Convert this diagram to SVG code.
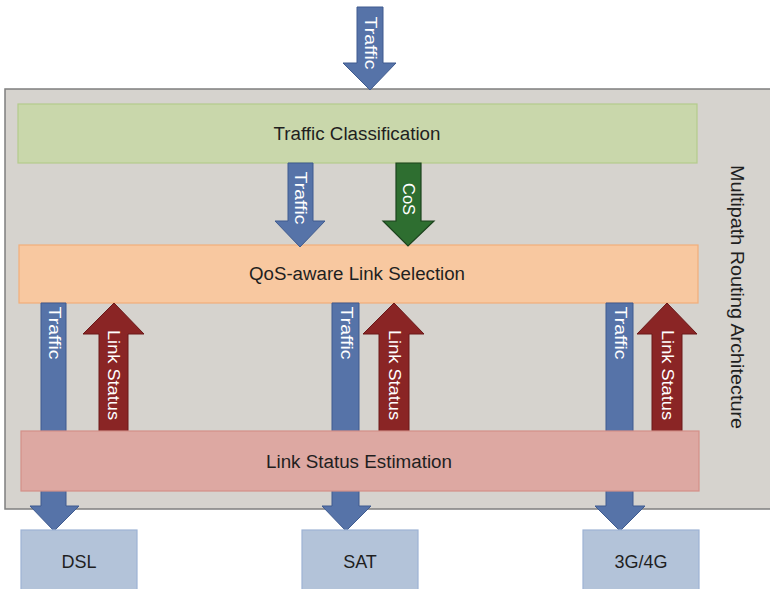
<svg xmlns="http://www.w3.org/2000/svg" width="770" height="589" viewBox="0 0 770 589">
  <defs>
    <style>
      .lbl { font-family: "Liberation Sans", Arial, sans-serif; fill: #1f1f1f; text-anchor: middle; }
      .box-lbl { font-size: 18px; }
      .arr-lbl { font-family: "Liberation Sans", Arial, sans-serif; fill: #ffffff; font-size: 16px; text-anchor: middle; }
      .blue { fill: #5673A8; stroke: #3F5B8F; stroke-width: 1; }
      .green { fill: #2E6E30; stroke: #1C431D; stroke-width: 1.2; }
      .red { fill: #8A2525; stroke: #6A1919; stroke-width: 1; }
      .link { fill: #B3C3D9; stroke: #9DB3D4; stroke-width: 1.2; }
    </style>
  </defs>

  <rect width="770" height="589" fill="#ffffff"/>

  <!-- architecture container -->
  <g id="architecture">
    <rect x="5" y="89" width="770" height="420" fill="#D6D3CE" stroke="#7F7F7F" stroke-width="1.5"/>
    <text class="lbl" font-size="19" transform="translate(731,297) rotate(90)" textLength="264" lengthAdjust="spacingAndGlyphs">Multipath Routing Architecture</text>
  </g>

  <!-- processing stages -->
  <g id="traffic-classification">
    <rect x="18" y="104" width="679" height="59" fill="#C9D7AB" stroke="#B4CB8C" stroke-width="1.2"/>
    <text class="lbl box-lbl" x="357" y="140" textLength="167" lengthAdjust="spacingAndGlyphs">Traffic Classification</text>
  </g>
  <g id="link-selection">
    <rect x="19" y="245" width="679" height="58" fill="#F8C8A0" stroke="#F2AE7A" stroke-width="1.2"/>
    <text class="lbl box-lbl" x="357" y="280" textLength="216" lengthAdjust="spacingAndGlyphs">QoS-aware Link Selection</text>
  </g>

  <!-- connectors -->
  <g id="connectors">
    <!-- incoming traffic -->
    <polygon class="blue" points="357,7 383,7 383,63 396,63 370,90 343,63 357,63"/>
    <text class="arr-lbl" transform="translate(364.5,43) rotate(90)" textLength="53" lengthAdjust="spacingAndGlyphs">Traffic</text>

    <!-- classification to link selection -->
    <polygon class="blue" points="288,163 313,163 313,221 325,221 300,247 275,221 288,221"/>
    <text class="arr-lbl" transform="translate(295,198) rotate(90)" textLength="53" lengthAdjust="spacingAndGlyphs">Traffic</text>
    <polygon class="green" points="396,163 421,163 421,221 434,221 408,246 383,221 396,221"/>
    <text class="arr-lbl" transform="translate(403,199) rotate(90)" textLength="32" lengthAdjust="spacingAndGlyphs">CoS</text>

    <!-- DSL path -->
    <polygon class="blue" points="41,303 66,303 66,506 79,506 54,531 30,506 41,506"/>
    <text class="arr-lbl" transform="translate(48.5,333) rotate(90)" textLength="53" lengthAdjust="spacingAndGlyphs">Traffic</text>
    <polygon class="red" points="99,431 128,431 128,334 144,334 114,303 83,334 99,334"/>
    <text class="arr-lbl" transform="translate(108,375) rotate(90)" textLength="90" lengthAdjust="spacingAndGlyphs">Link Status</text>

    <!-- SAT path -->
    <polygon class="blue" points="332,303 359,303 359,506 371,506 346,531 322,506 332,506"/>
    <text class="arr-lbl" transform="translate(340.5,333) rotate(90)" textLength="53" lengthAdjust="spacingAndGlyphs">Traffic</text>
    <polygon class="red" points="379,431 409,431 409,334 424,334 394,303 363,334 379,334"/>
    <text class="arr-lbl" transform="translate(388.5,375) rotate(90)" textLength="90" lengthAdjust="spacingAndGlyphs">Link Status</text>

    <!-- 3G/4G path -->
    <polygon class="blue" points="606,303 633,303 633,506 645,506 620,531 595,506 606,506"/>
    <text class="arr-lbl" transform="translate(614.5,333) rotate(90)" textLength="53" lengthAdjust="spacingAndGlyphs">Traffic</text>
    <polygon class="red" points="652,431 682,431 682,334 697,334 667,303 637,334 652,334"/>
    <text class="arr-lbl" transform="translate(661.5,375) rotate(90)" textLength="90" lengthAdjust="spacingAndGlyphs">Link Status</text>
  </g>

  <g id="status-estimation">
    <rect x="21" y="431" width="678" height="60" fill="#DDA8A2" stroke="#D48F88" stroke-width="1.2"/>
    <text class="lbl box-lbl" x="359" y="468" textLength="186" lengthAdjust="spacingAndGlyphs">Link Status Estimation</text>
  </g>

  <!-- access links -->
  <g id="dsl">
    <rect class="link" x="21" y="530" width="116" height="65"/>
    <text class="lbl box-lbl" x="79" y="568">DSL</text>
  </g>
  <g id="sat">
    <rect class="link" x="302" y="530" width="116" height="65"/>
    <text class="lbl box-lbl" x="360" y="568">SAT</text>
  </g>
  <g id="g3g4g">
    <rect class="link" x="583" y="530" width="116" height="65"/>
    <text class="lbl box-lbl" x="641" y="568">3G/4G</text>
  </g>
</svg>
